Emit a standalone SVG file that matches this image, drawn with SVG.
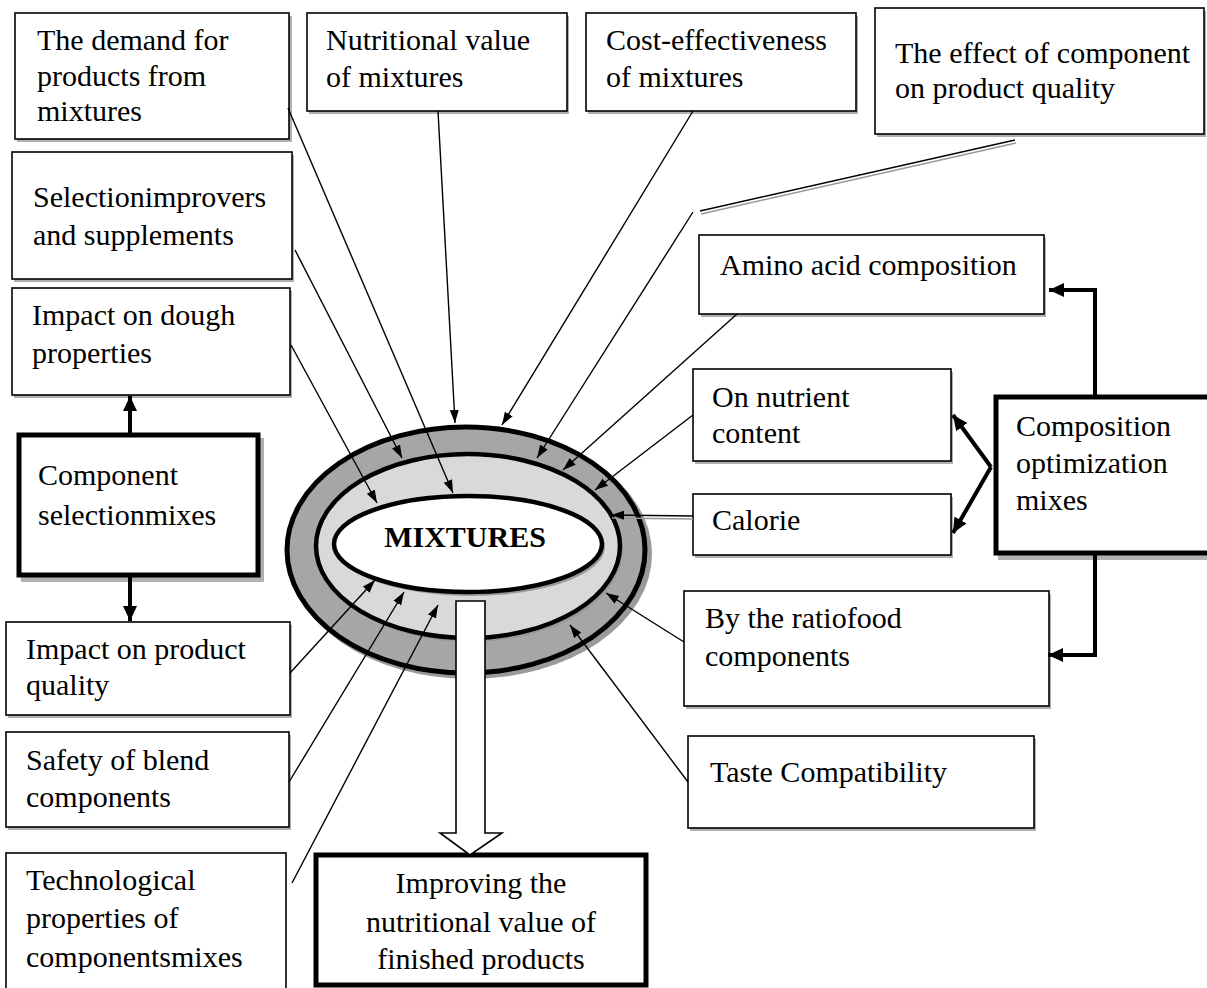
<svg xmlns="http://www.w3.org/2000/svg" width="1207" height="988" viewBox="0 0 1207 988">
<style>
text{font-family:"Liberation Serif","Times New Roman",serif;font-size:30px;fill:#000}
.b{fill:#fff;stroke:#000;stroke-width:1.6}
.sh{fill:#b0b0b0;stroke:none}
.tb{fill:#fff;stroke:#000;stroke-width:5}
.c{fill:none;stroke:#000;stroke-width:1.4}
.cg{fill:none;stroke:#999;stroke-width:1.6}
.t{fill:none;stroke:#000;stroke-width:4}
.mix{font-weight:bold;text-anchor:middle}
.mid{text-anchor:middle}
</style>
<defs>
<marker id="a" markerUnits="userSpaceOnUse" markerWidth="14" markerHeight="10" refX="13" refY="5" orient="auto"><path d="M0,0.5 L13,5 L0,9.5 z" fill="#000"/></marker>
<marker id="A" markerUnits="userSpaceOnUse" markerWidth="16" markerHeight="14" refX="15" refY="7" orient="auto"><path d="M0,0 L15,7 L0,14 z" fill="#000"/></marker>
</defs>

<g id="n-demand"><rect class="sh" x="17" y="16" width="275" height="126"/><rect class="b" x="15" y="13" width="274" height="126"/><text x="37" y="50">The demand for</text><text x="37" y="86">products from</text><text x="37" y="121">mixtures</text></g>
<g id="n-nutritional"><rect class="sh" x="309" y="16" width="260" height="98"/><rect class="b" x="307" y="13" width="260" height="98"/><text x="326" y="50">Nutritional value</text><text x="326" y="87">of mixtures</text></g>
<g id="n-cost"><rect class="sh" x="588" y="16" width="270" height="98"/><rect class="b" x="586" y="13" width="270" height="98"/><text x="606" y="50">Cost-effectiveness</text><text x="606" y="87">of mixtures</text></g>
<g id="n-effect"><rect class="sh" x="877" y="11" width="329" height="126"/><rect class="b" x="875" y="8" width="329" height="126"/><text x="895" y="63">The effect of component</text><text x="895" y="98">on product quality</text></g>
<g id="n-selection"><rect class="sh" x="14" y="155" width="280" height="127"/><rect class="b" x="12" y="152" width="280" height="127"/><text x="33" y="207">Selectionimprovers</text><text x="33" y="245">and supplements</text></g>
<g id="n-dough"><rect class="sh" x="14" y="291" width="278" height="107"/><rect class="b" x="12" y="288" width="278" height="107"/><text x="32" y="325">Impact on dough</text><text x="32" y="363">properties</text></g>
<g id="n-component"><rect class="sh" x="21" y="438" width="243" height="144"/><rect class="tb" x="19" y="435" width="239" height="140"/><text x="38" y="485">Component</text><text x="38" y="525">selectionmixes</text></g>
<g id="n-amino"><rect class="sh" x="701" y="238" width="345" height="79"/><rect class="b" x="699" y="235" width="345" height="79"/><text x="720" y="275">Amino acid composition</text></g>
<g id="n-nutrient"><rect class="sh" x="695" y="372" width="258" height="92"/><rect class="b" x="693" y="369" width="258" height="92"/><text x="712" y="407">On nutrient</text><text x="712" y="443">content</text></g>
<g id="n-calorie"><rect class="sh" x="695" y="497" width="258" height="61"/><rect class="b" x="693" y="494" width="258" height="61"/><text x="712" y="530">Calorie</text></g>
<g id="n-composition"><rect class="sh" x="998" y="400" width="215" height="160"/><rect class="tb" x="996" y="397" width="215" height="156"/><text x="1016" y="436">Composition</text><text x="1016" y="473">optimization</text><text x="1016" y="510">mixes</text></g>
<g id="n-ratio"><rect class="sh" x="686" y="594" width="365" height="115"/><rect class="b" x="684" y="591" width="365" height="115"/><text x="705" y="628">By the ratiofood</text><text x="705" y="666">components</text></g>
<g id="n-taste"><rect class="sh" x="690" y="739" width="346" height="92"/><rect class="b" x="688" y="736" width="346" height="92"/><text x="710" y="782">Taste Compatibility</text></g>
<g id="n-quality"><rect class="sh" x="8" y="625" width="284" height="93"/><rect class="b" x="6" y="622" width="284" height="93"/><text x="26" y="659">Impact on product</text><text x="26" y="695">quality</text></g>
<g id="n-safety"><rect class="sh" x="8" y="735" width="283" height="95"/><rect class="b" x="6" y="732" width="283" height="95"/><text x="26" y="770">Safety of blend</text><text x="26" y="807">components</text></g>
<g id="n-tech"><rect class="b" x="6" y="853" width="280" height="140"/><text x="26" y="890">Technological</text><text x="26" y="928">properties of</text><text x="26" y="967">componentsmixes</text></g>
<g id="n-improving"><rect class="tb" x="316" y="855" width="330" height="130"/><text class="mid" x="481" y="893">Improving the</text><text class="mid" x="481" y="932">nutritional value of</text><text class="mid" x="481" y="969">finished products</text></g>

<g id="n-mixtures">
<ellipse cx="470" cy="554" rx="182" ry="125" fill="#9a9a9a"/>
<ellipse cx="466" cy="550" rx="179" ry="123" fill="#a6a6a6" stroke="#000" stroke-width="5"/>
<ellipse cx="470" cy="549" rx="153" ry="93" fill="#8c8c8c" opacity="0.5"/>
<ellipse cx="468" cy="546" rx="152" ry="92" fill="#d9d9d9" stroke="#000" stroke-width="4.5"/>
<ellipse cx="471" cy="547" rx="134" ry="49" fill="#999"/>
<ellipse cx="468" cy="544" rx="134" ry="48" fill="#fff" stroke="#000" stroke-width="4.5"/>
<text class="mix" x="465" y="547">MIXTURES</text>
</g>

<g id="connectors">
<line class="c" x1="288" y1="108" x2="453" y2="493" marker-end="url(#a)"/>
<line class="c" x1="438" y1="111" x2="455" y2="423" marker-end="url(#a)"/>
<line class="c" x1="693" y1="111" x2="502" y2="425" marker-end="url(#a)"/>
<line class="c" x1="295" y1="250" x2="402" y2="458" marker-end="url(#a)"/>
<line class="c" x1="291" y1="345" x2="377" y2="503" marker-end="url(#a)"/>
<line class="cg" x1="1016" y1="143" x2="701" y2="214"/>
<line class="c" x1="1015" y1="140" x2="700" y2="211" stroke-width="1.8"/>
<line class="c" x1="693" y1="212" x2="537" y2="458" marker-end="url(#a)"/>
<line class="c" x1="737" y1="314" x2="563" y2="470" marker-end="url(#a)"/>
<line class="c" x1="693" y1="415" x2="595" y2="490" marker-end="url(#a)"/>
<line class="cg" x1="693" y1="519" x2="612" y2="518"/>
<line class="c" x1="693" y1="516" x2="611" y2="515" marker-end="url(#a)"/>
<line class="c" x1="290" y1="673" x2="375" y2="580" marker-end="url(#a)"/>
<line class="c" x1="289" y1="782" x2="404" y2="592" marker-end="url(#a)"/>
<line class="c" x1="292" y1="883" x2="438" y2="605" marker-end="url(#a)"/>
<line class="c" x1="684" y1="642" x2="606" y2="593" marker-end="url(#a)"/>
<line class="c" x1="688" y1="782" x2="570" y2="625" marker-end="url(#a)"/>
<line class="t" x1="130" y1="433" x2="130" y2="396" marker-end="url(#A)"/>
<line class="t" x1="130" y1="577" x2="130" y2="621" marker-end="url(#A)"/>
<path class="t" d="M1095,395 V290 H1049" marker-end="url(#A)"/>
<path class="t" d="M1095,555 V655 H1048" marker-end="url(#A)"/>
<line class="t" x1="991" y1="467" x2="953" y2="415" marker-end="url(#A)"/>
<line class="t" x1="991" y1="467" x2="953" y2="533" marker-end="url(#A)"/>
<path d="M456,601 H485 V833 H502 L470,855 L440,833 H456 Z" fill="#fff" stroke="#000" stroke-width="1.6"/>
</g>
</svg>
